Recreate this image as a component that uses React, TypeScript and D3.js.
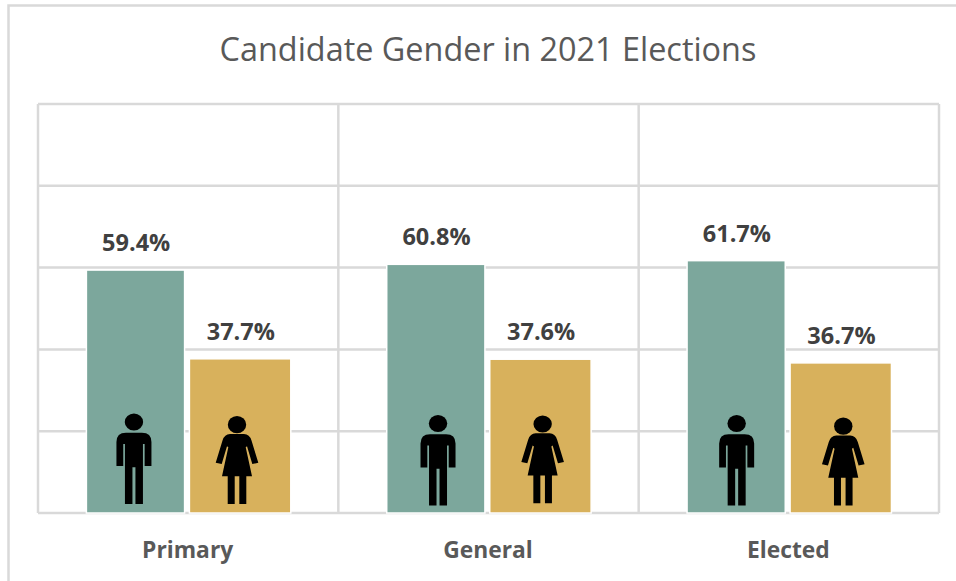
import React from "react";
import * as d3 from "d3";

const categories = ["Primary", "General", "Elected"];
const series = ["Male", "Female"];
const maleShare = [59.4, 60.8, 61.7];
const femaleShare = [37.7, 37.6, 36.7];
const yTicks = [0, 20, 40, 60, 80, 100];

const WIDTH = 956;
const HEIGHT = 581;
const plot = { left: 38, right: 939, top: 104, bottom: 513 };
const colors = { Male: "#7ca79c", Female: "#d8b15c" };

// Pictograms are drawn with their feet at the local origin.
const manBody =
  "M-9,0 L-9,-60 L-10.7,-60 L-10.7,-38 L-17.5,-38 L-17.5,-62 Q-17.5,-71.3 -8,-71.3 L8,-71.3 Q17.5,-71.3 17.5,-62 L17.5,-38 L10.7,-38 L10.7,-60 L9,-60 L9,0 L1.5,0 L1.5,-36.7 L-1.5,-36.7 L-1.5,0 Z";
const womanBody =
  "M-9.3,0 L-9.3,-27.7 L-15,-27.7 L-8.7,-56.7 L-10,-57.7 L-15.3,-40 L-21.3,-41.3 L-14.5,-63.5 Q-12.5,-70 -7,-70 L7,-70 Q12.5,-70 14.5,-63.5 L21.3,-41.3 L15.3,-40 L10,-57.7 L8.7,-56.7 L15,-27.7 L9.3,-27.7 L9.3,0 L2.3,0 L2.3,-27.7 L-2.3,-27.7 L-2.3,0 Z";

// Hand placement of the pictograms inside each bar.
const iconShift = {
  Male: [{ dx: -1.75, y: 504 }, { dx: 2, y: 505.5 }, { dx: 0.3, y: 505.5 }],
  Female: [{ dx: -3.3, y: 504 }, { dx: 2, y: 503.3 }, { dx: 2.3, y: 505.5 }],
};

// The green bars sit a touch narrower than the gold ones.
const barTrim = {
  Male: { left: 0.4, width: -1.2 },
  Female: { left: -1.2, width: 2 },
};

const y = d3.scaleLinear().domain([0, 100]).range([plot.bottom, plot.top]);
const x0 = d3.scaleBand<string>().domain(categories).range([plot.left, plot.right]);
const x1 = d3.scaleBand<string>().domain(series).range([48, 252]).paddingInner(0.05);

function Person({ kind, x, base }: { kind: string; x: number; base: number }) {
  const isMan = kind === "Male";
  return (
    <g transform={`translate(${x},${base})`} fill="#000">
      <ellipse cx={0} cy={isMan ? -82 : -79.3} rx={9.2} ry={8.6} />
      <path d={isMan ? manBody : womanBody} />
    </g>
  );
}

export default function App() {
  const rows = categories.map((c, i) => ({ c, i, Male: maleShare[i], Female: femaleShare[i] }));
  const grid = "#d9d9d9";
  return (
    <svg
      width={WIDTH}
      height={HEIGHT}
      viewBox={`0 0 ${WIDTH} ${HEIGHT}`}
      style={{ position: "absolute", left: 0, top: 0, background: "#fff" }}
    >
      <path d={`M8.5,${HEIGHT} V5.5 H${WIDTH}`} fill="none" stroke={grid} strokeWidth={2.5} />
      <text
        x={488}
        y={61}
        textAnchor="middle"
        fontFamily="'Open Sans', sans-serif"
        fontSize={32.4}
        fill="#595959"
      >
        Candidate Gender in 2021 Elections
      </text>

      {yTicks.map((t) => (
        <line key={t} x1={plot.left} x2={plot.right} y1={y(t)} y2={y(t)} stroke={grid} strokeWidth={2.5} />
      ))}
      {[...categories.map((c) => x0(c) as number), plot.right].map((xv) => (
        <line key={xv} x1={xv} x2={xv} y1={plot.top} y2={plot.bottom} stroke={grid} strokeWidth={2.5} />
      ))}

      {rows.map((r) => (
        <g key={r.c} transform={`translate(${x0(r.c)},0)`}>
          {series.map((s) => {
            const v = (r as any)[s] as number;
            const bw = x1.bandwidth();
            const trim = (barTrim as any)[s];
            const bx = (x1(s) as number) + trim.left;
            const cx = (x1(s) as number) + bw / 2;
            const shift = (iconShift as any)[s][r.i];
            return (
              <g key={s}>
                <rect
                  x={bx}
                  y={y(v)}
                  width={bw + trim.width}
                  height={plot.bottom - y(v)}
                  fill={(colors as any)[s]}
                  stroke="#fff"
                  strokeWidth={1.5}
                />
                <Person kind={s} x={cx + shift.dx} base={shift.y} />
                <text
                  x={cx + 0.5}
                  y={y(v) - 19}
                  textAnchor="middle"
                  fontFamily="'Open Sans', sans-serif"
                  fontWeight={700}
                  fontSize={23.5}
                  fill="#404040"
                >
                  {v.toFixed(1)}%
                </text>
              </g>
            );
          })}
          <text
            x={x0.bandwidth() / 2 - 0.5}
            y={558}
            textAnchor="middle"
            fontFamily="'Open Sans', sans-serif"
            fontWeight={700}
            fontSize={22.8}
            fill="#595959"
          >
            {r.c}
          </text>
        </g>
      ))}
    </svg>
  );
}
